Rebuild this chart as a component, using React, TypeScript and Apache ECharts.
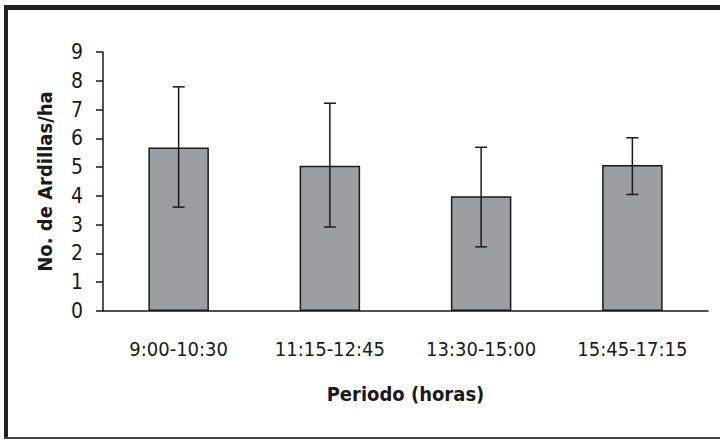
import React, { useEffect, useRef } from "react";
import * as echarts from "echarts";

const categories = ["9:00-10:30", "11:15-12:45", "13:30-15:00", "15:45-17:15"];
const meanValues = [5.68, 5.05, 3.99, 5.07];
const errorLow = [3.61, 2.92, 2.23, 4.05];
const errorHigh = [7.79, 7.22, 5.69, 6.02];
const yTicks = [0, 1, 2, 3, 4, 5, 6, 7, 8, 9];

const FONT = "'Liberation Sans Narrow', 'Arial Narrow', 'DejaVu Sans Condensed', sans-serif";

export default function App() {
  const ref = useRef<HTMLDivElement>(null);
  useEffect(() => {
    if (!ref.current) return;
    const chart = echarts.init(ref.current, undefined, { renderer: "svg" });
    const errData = categories.map((_, i) => [i, errorLow[i], errorHigh[i]]);
    chart.setOption({
      animation: false,
      backgroundColor: "#ffffff",
      grid: { left: 103, right: 12, top: 52, bottom: 129, containLabel: false },
      xAxis: {
        type: "category",
        data: categories,
        name: "Periodo (horas)",
        nameLocation: "middle",
        nameGap: 73,
        nameTextStyle: { fontFamily: FONT, fontSize: 20, fontWeight: "bold", color: "#1a1a1a" },
        axisLine: { lineStyle: { color: "#1a1a1a", width: 1.5 } },
        axisTick: { alignWithLabel: false, length: 7, lineStyle: { color: "#1a1a1a", width: 1.5 } },
        axisLabel: { fontFamily: FONT, fontSize: 20, color: "#1a1a1a", margin: 28 },
      },
      yAxis: {
        type: "value",
        min: 0,
        max: 9,
        interval: 1,
        name: "No. de Ardillas/ha",
        nameLocation: "middle",
        nameGap: 48,
        nameRotate: 90,
        nameTextStyle: { fontFamily: FONT, fontSize: 20, fontWeight: "bold", color: "#1a1a1a" },
        axisLine: { show: true, lineStyle: { color: "#1a1a1a", width: 1.5 } },
        axisTick: { show: true, length: 7, lineStyle: { color: "#1a1a1a", width: 1.5 } },
        axisLabel: {
          fontFamily: FONT,
          fontSize: 21,
          color: "#1a1a1a",
          margin: 20,
          formatter: (v: number) => (yTicks.includes(v) ? String(v) : ""),
        },
        splitLine: { show: false },
      },
      series: [
        {
          type: "bar",
          data: meanValues,
          barWidth: "40%",
          itemStyle: { color: "#9b9fa2", borderColor: "#1a1a1a", borderWidth: 1.5 },
        },
        {
          type: "custom",
          data: errData,
          encode: { x: 0, y: [1, 2] },
          z: 10,
          renderItem: (params: any, api: any) => {
            const x = api.value(0);
            const lo = api.coord([x, api.value(1)]);
            const hi = api.coord([x, api.value(2)]);
            const half = 6;
            const style = { stroke: "#1a1a1a", lineWidth: 1.5 };
            return {
              type: "group",
              children: [
                { type: "line", shape: { x1: hi[0], y1: hi[1], x2: lo[0], y2: lo[1] }, style },
                { type: "line", shape: { x1: hi[0] - half, y1: hi[1], x2: hi[0] + half, y2: hi[1] }, style },
                { type: "line", shape: { x1: lo[0] - half, y1: lo[1], x2: lo[0] + half, y2: lo[1] }, style },
              ],
            };
          },
        },
      ],
      graphic: [
        { type: "rect", left: 4, top: 5, shape: { width: 716, height: 5 }, style: { fill: "#222222" } },
        { type: "rect", left: 4, top: 5, shape: { width: 4, height: 434 }, style: { fill: "#222222" } },
        { type: "rect", left: 4, top: 437, shape: { width: 716, height: 2 }, style: { fill: "#444444" } },
      ],
    });
    return () => chart.dispose();
  }, []);
  return (
    <div
      ref={ref}
      style={{ position: "fixed", left: 0, top: 0, width: 720, height: 440 }}
    />
  );
}
